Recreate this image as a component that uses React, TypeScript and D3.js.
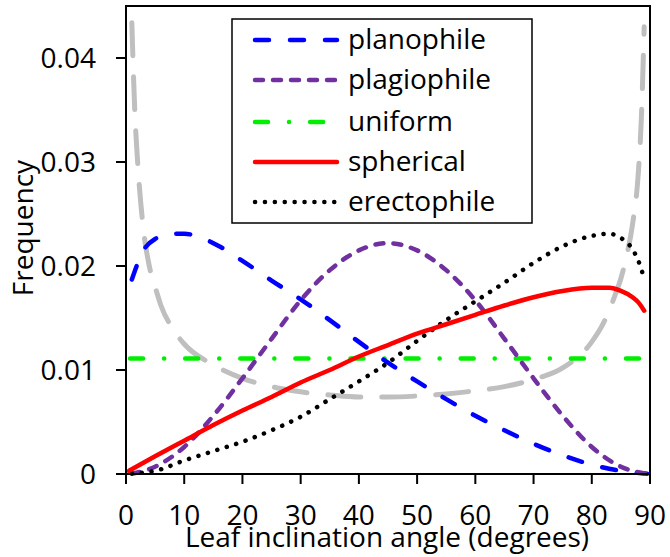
import React from "react";
import * as d3 from "d3";

// ---- data ----
const planoAngles = [1, 3, 5, 8, 10, 13, 16, 20, 25, 30, 35, 40, 45, 50, 55, 60, 65, 70, 75, 80, 85, 89.5];
const planoValues = [0.0187, 0.0215, 0.0226, 0.0231, 0.0231, 0.0227, 0.0219, 0.0205, 0.0186, 0.0168, 0.0148, 0.0127, 0.0107, 0.0089, 0.0072, 0.0056, 0.0042, 0.0029, 0.0018, 0.0009, 0.0003, 0.00002];

const plagioAngles = [1, 5, 10, 15, 20, 25, 30, 35, 40, 45, 50, 55, 60, 65, 70, 75, 80, 85, 89.5];
const plagioValues = [0.00002, 0.0007, 0.0026, 0.0056, 0.0092, 0.013, 0.0167, 0.0196, 0.0215, 0.0222, 0.0215, 0.0196, 0.0167, 0.013, 0.0092, 0.0056, 0.0026, 0.0007, 0.00002];

const uniformAngles = [0.7, 89.5];
const uniformValues = [0.0111, 0.0111];

const sphereAngles = [0.5, 5, 10, 15, 20, 25, 30, 35, 40, 45, 50, 55, 60, 65, 70, 75, 80, 83, 85, 87, 88, 89];
const sphereValues = [0.0003, 0.0017, 0.0032, 0.0047, 0.0061, 0.0074, 0.0088, 0.01, 0.0113, 0.0124, 0.0135, 0.0144, 0.0153, 0.0162, 0.017, 0.0176, 0.0179, 0.0179, 0.0176, 0.017, 0.0165, 0.0157];

const erectoAngles = [1, 5, 10, 15, 20, 25, 30, 35, 40, 45, 50, 55, 60, 65, 70, 75, 80, 83, 85, 87, 88, 89];
const erectoValues = [0.00005, 0.0003, 0.0013, 0.0022, 0.0031, 0.0042, 0.0055, 0.0072, 0.0089, 0.0107, 0.0128, 0.0148, 0.0166, 0.0184, 0.0203, 0.0219, 0.0229, 0.0231, 0.0227, 0.0216, 0.0205, 0.0188];

const extremoAngles = [1, 1.5, 2, 3, 4, 5, 6, 8, 10, 15, 20, 25, 30, 35, 40, 45, 50, 55, 60, 65, 70, 75, 80, 82, 84, 85, 86, 87, 88, 88.5, 89];
const extremoValues = [0.0434, 0.035, 0.03, 0.0235, 0.02, 0.018, 0.0162, 0.014, 0.0125, 0.0105, 0.0092, 0.0084, 0.0079, 0.0076, 0.0074, 0.0074, 0.0075, 0.0077, 0.008, 0.0084, 0.0091, 0.0102, 0.0127, 0.0145, 0.0172, 0.0188, 0.021, 0.024, 0.029, 0.034, 0.043];

const xTicks = [0, 10, 20, 30, 40, 50, 60, 70, 80, 90];
const yTicks = [0, 0.01, 0.02, 0.03, 0.04];
const yTickLabels = ["0", "0.01", "0.02", "0.03", "0.04"];

const legendNames = ["planophile", "plagiophile", "uniform", "spherical", "erectophile"];

const FONT = "'Open Sans', sans-serif";

export default function App() {
  const left = 126, right = 650, top = 6, bottom = 474;
  const x = d3.scaleLinear().domain([0, 90]).range([left, right]);
  const y = d3.scaleLinear().domain([0, 0.045]).range([bottom, top]);

  const line = d3
    .line<[number, number]>()
    .x((d) => x(d[0]))
    .y((d) => y(d[1]))
    .curve(d3.curveMonotoneX);

  const zip = (a: number[], b: number[]) => a.map((v, i) => [v, b[i]] as [number, number]);

  const styles = {
    plano: { stroke: "#0000ff", width: 4.5, dash: "14,21", cap: "round" },
    plagio: { stroke: "#7030a0", width: 4.5, dash: "8,10", cap: "round" },
    uniform: { stroke: "#00ee00", width: 4.5, dash: "13,21,0.1,21", cap: "round" },
    sphere: { stroke: "#ff0000", width: 4.5, dash: "none", cap: "round" },
    erecto: { stroke: "#000000", width: 4.5, dash: "0.1,9.8", cap: "round" },
    extremo: { stroke: "#bfbfbf", width: 5, dash: "33,21", cap: "round" },
  };

  const series = [
    { d: zip(extremoAngles, extremoValues), s: styles.extremo },
    { d: zip(uniformAngles, uniformValues), s: styles.uniform },
    { d: zip(planoAngles, planoValues), s: styles.plano },
    { d: zip(plagioAngles, plagioValues), s: styles.plagio },
    { d: zip(erectoAngles, erectoValues), s: styles.erecto },
    { d: zip(sphereAngles, sphereValues), s: styles.sphere },
  ];

  const legendStyles = [styles.plano, styles.plagio, styles.uniform, styles.sphere, styles.erecto];
  const legendY = [40, 80, 122, 162, 202];

  return (
    <svg
      width={670}
      height={557}
      style={{ position: "absolute", left: 0, top: 0, background: "#fff" }}
      fontFamily={FONT}
    >
      <rect x={0} y={0} width={670} height={557} fill="#fff" />
      {/* curves */}
      {series.map((sr, i) => (
        <path
          key={i}
          d={line(sr.d) || ""}
          fill="none"
          stroke={sr.s.stroke}
          strokeWidth={sr.s.width}
          strokeDasharray={sr.s.dash}
          strokeLinecap={sr.s.cap as any}
          strokeLinejoin="round"
        />
      ))}
      {/* frame */}
      <rect x={left} y={top} width={right - left} height={bottom - top} fill="none" stroke="#000" strokeWidth={2} />
      {/* x ticks */}
      {xTicks.map((t) => (
        <g key={"x" + t}>
          <line x1={x(t)} x2={x(t)} y1={bottom} y2={bottom + 10} stroke="#000" strokeWidth={2} />
          <text x={x(t)} y={525} textAnchor="middle" fontSize={28} fill="#000">
            {t}
          </text>
        </g>
      ))}
      {/* y ticks */}
      {yTicks.map((t, i) => (
        <g key={"y" + t}>
          <line x1={left - 10} x2={left} y1={y(t)} y2={y(t)} stroke="#000" strokeWidth={2} />
          <text x={96} y={y(t) + 10} textAnchor="end" fontSize={28} fill="#000">
            {yTickLabels[i]}
          </text>
        </g>
      ))}
      {/* axis titles */}
      <text x={387} y={547} textAnchor="middle" fontSize={28} fill="#000">
        Leaf inclination angle (degrees)
      </text>
      <text transform="translate(33,228) rotate(-90)" textAnchor="middle" fontSize={28} fill="#000">
        Frequency
      </text>
      {/* legend */}
      <rect x={232} y={19} width={300} height={204} fill="#fff" stroke="#000" strokeWidth={1.5} />
      {legendNames.map((n, i) => (
        <g key={n}>
          <line
            x1={255}
            x2={337}
            y1={legendY[i]}
            y2={legendY[i]}
            stroke={legendStyles[i].stroke}
            strokeWidth={legendStyles[i].width}
            strokeDasharray={legendStyles[i].dash}
            strokeLinecap={legendStyles[i].cap as any}
          />
          <text x={348} y={legendY[i] + 9} fontSize={28} fill="#000">
            {n}
          </text>
        </g>
      ))}
    </svg>
  );
}
